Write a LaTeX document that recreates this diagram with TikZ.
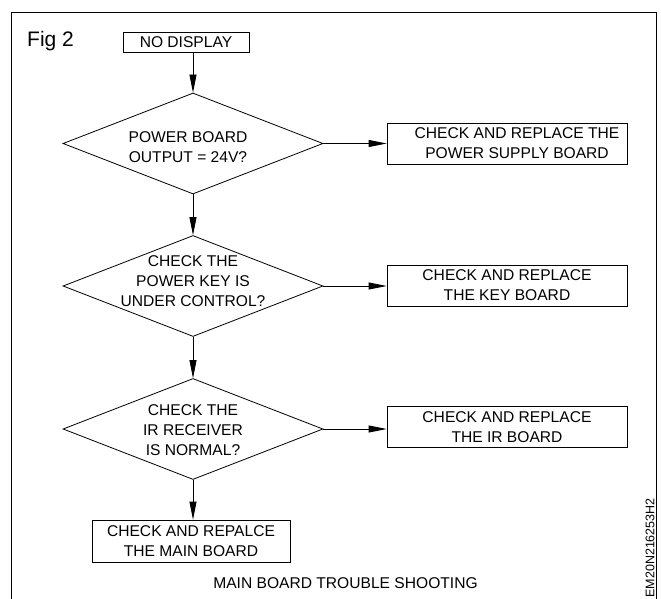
\documentclass[tikz,border=0pt]{standalone}
\usepackage{fontspec}
\setmainfont{Liberation Sans}
\usetikzlibrary{shapes.geometric,arrows.meta}
\begin{document}
\begin{tikzpicture}[x=1pt,y=-1pt,
 every node/.style={font=\fontsize{15.6}{20}\selectfont},
 dec/.style={draw, diamond, minimum width=260pt, minimum height=101pt, inner sep=0pt, line width=0.8pt},
 dtext/.style={align=center, inner sep=0pt},
 boxnode/.style={draw, rectangle, inner sep=0pt, align=center, line width=0.8pt},
 arr/.style={-{Triangle[length=18pt,width=7pt]}, line width=0.8pt},
]
\useasboundingbox (0,0) rectangle (661,599);
\draw[line width=0.8pt] (11,605) -- (11,12) -- (656,12) -- (656,605);

\node[font=\fontsize{21}{25}\selectfont, anchor=base west, inner sep=0pt] (fig) at (27,47) {Fig 2};

\node[boxnode, minimum width=126pt, minimum height=20pt] (nd) at (186,42) {NO DISPLAY};

\node[dec] (d1) at (193,143.5) {};
\node[dtext] (t1) at (188,147) {POWER BOARD\\OUTPUT = 24V?};
\node[dec] (d2) at (193,286) {};
\node[dtext] (t2) at (193,281) {CHECK THE\\POWER KEY IS\\UNDER CONTROL?};
\node[dec] (d3) at (193,429) {};
\node[dtext] (t3) at (193,430) {CHECK THE\\IR RECEIVER\\IS NORMAL?};

\node[boxnode, minimum width=240pt, minimum height=41pt] (b1) at (507,143.5) {\hspace*{20pt}CHECK AND REPLACE THE\\\hspace*{20pt}POWER SUPPLY BOARD};
\node[boxnode, minimum width=240pt, minimum height=41pt] (b2) at (507,285.5) {CHECK AND REPLACE\\THE KEY BOARD};
\node[boxnode, minimum width=240pt, minimum height=41pt] (b3) at (507,427) {CHECK AND REPLACE\\THE IR BOARD};
\node[boxnode, minimum width=198pt, minimum height=42pt] (fb) at (191,541) {CHECK AND REPALCE\\THE MAIN BOARD};

\draw[arr] (nd.south -| d1.north) -- (d1.north);
\draw[arr] (d1.south) -- (d2.north);
\draw[arr] (d2.south) -- (d3.north);
\draw[arr] (d3.south) -- (d3.south |- fb.north);
\draw[arr] (d1.east) -- (d1.east -| b1.west);
\draw[arr] (d2.east) -- (d2.east -| b2.west);
\draw[arr] (d3.east) -- (d3.east -| b3.west);

\node[anchor=base, inner sep=0pt] (title) at (345.5,588) {MAIN BOARD TROUBLE SHOOTING};
\node[rotate=90, anchor=east, inner sep=0pt, font=\fontsize{12.5}{15}\selectfont] (code) at (650,498) {EM20N216253H2};
\end{tikzpicture}
\end{document}
